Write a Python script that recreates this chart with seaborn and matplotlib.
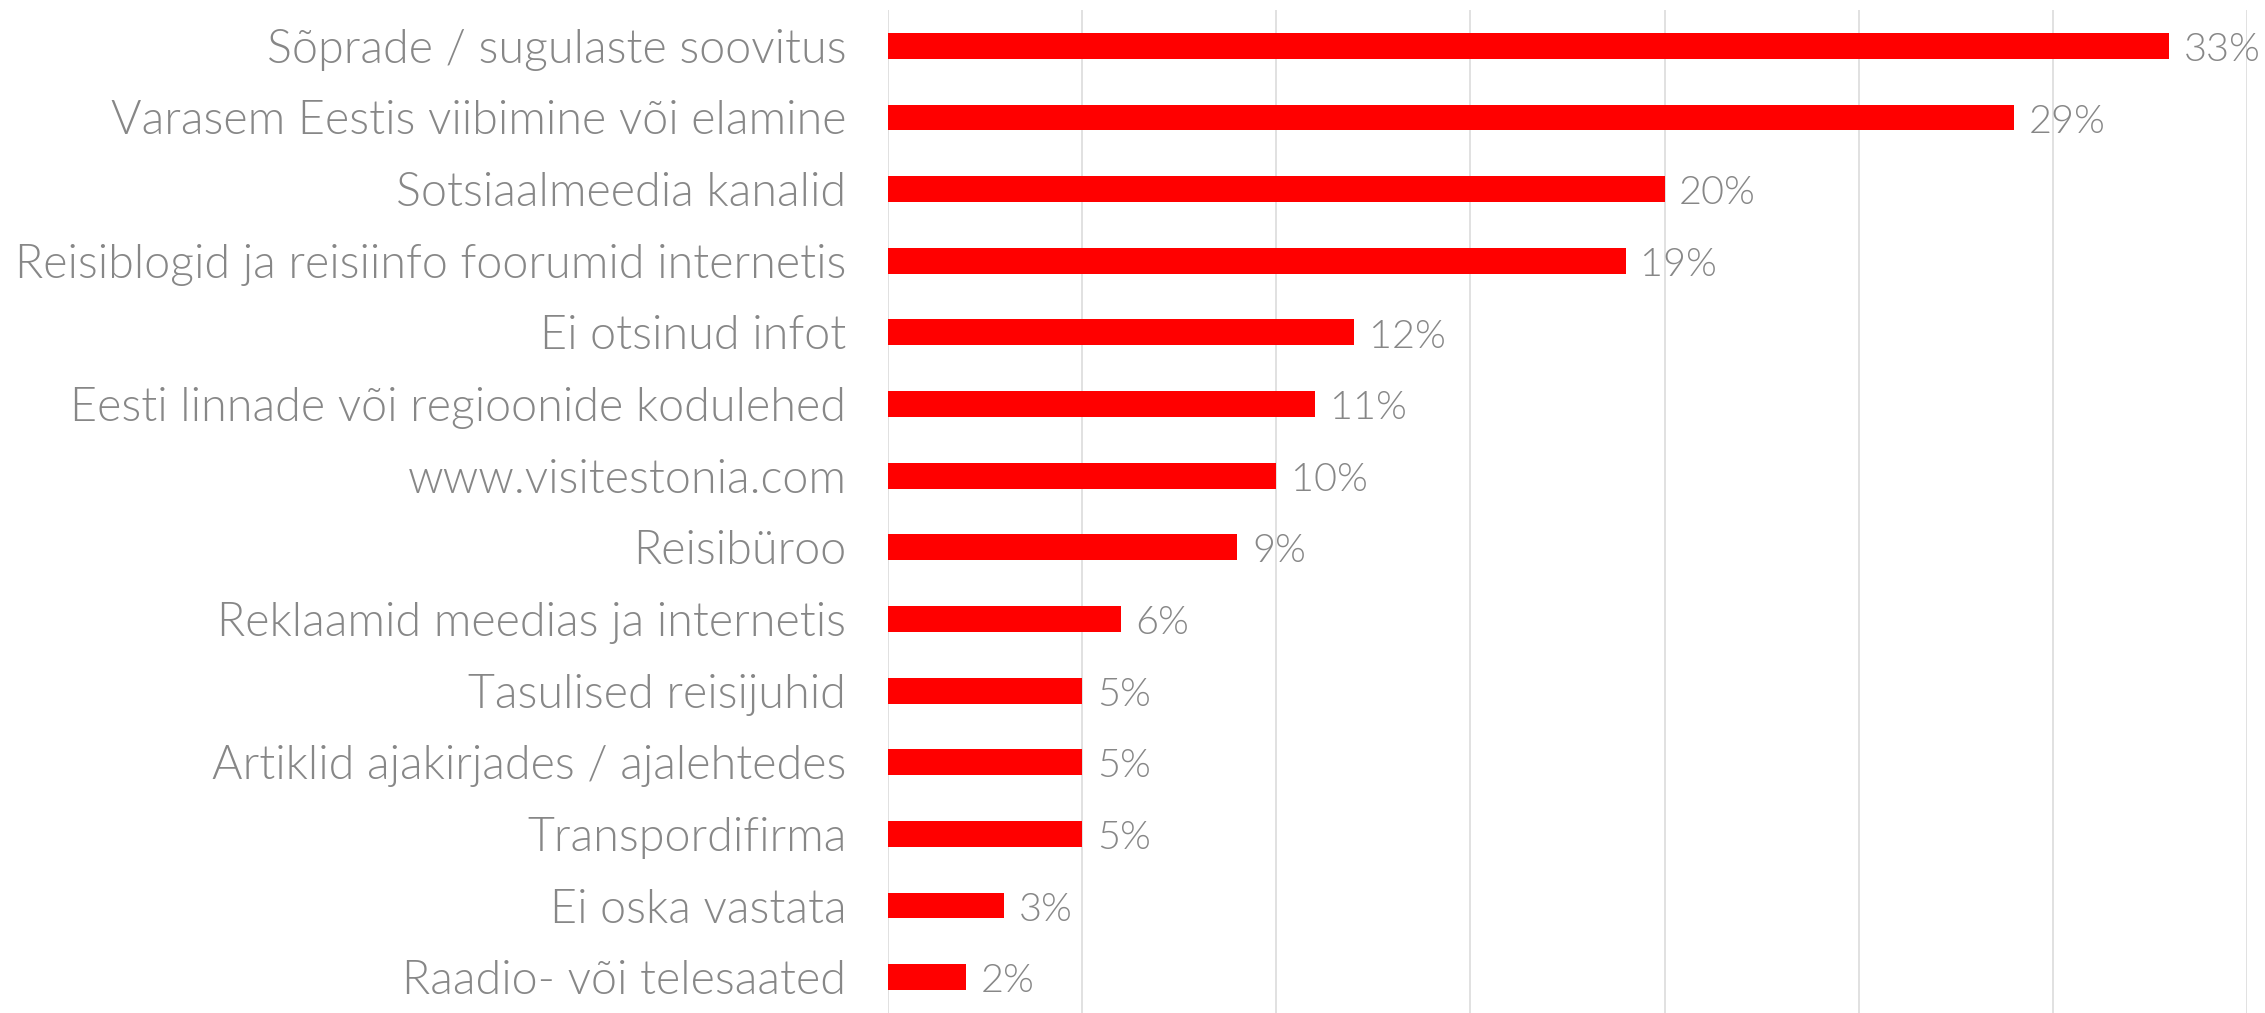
import matplotlib
matplotlib.use("Agg")
import matplotlib.pyplot as plt
from matplotlib import font_manager as fm
import seaborn as sns
import pandas as pd

categories = [
    "Sõprade / sugulaste soovitus",
    "Varasem Eestis viibimine või elamine",
    "Sotsiaalmeedia kanalid",
    "Reisiblogid ja reisiinfo foorumid internetis",
    "Ei otsinud infot",
    "Eesti linnade või regioonide kodulehed",
    "www.visitestonia.com",
    "Reisibüroo",
    "Reklaamid meedias ja internetis",
    "Tasulised reisijuhid",
    "Artiklid ajakirjades / ajalehtedes",
    "Transpordifirma",
    "Ei oska vastata",
    "Raadio- või telesaated",
]
values = [33, 29, 20, 19, 12, 11, 10, 9, 6, 5, 5, 5, 3, 2]
x_ticks = [0, 5, 10, 15, 20, 25, 30, 35]

TEXT = "#878787"
RED = "#ff0000"
GRID = "#dedede"


def pick_font():
    def w(v):
        if isinstance(v, int):
            return v
        return {"light": 300, "extra light": 200, "ultralight": 200, "thin": 100}.get(str(v).lower(), 400)
    for fam in ["Lato", "Roboto", "Open Sans", "Noto Sans"]:
        for f in fm.fontManager.ttflist:
            if f.name == fam and f.style == "normal" and w(f.weight) == 300 and f.stretch in ("normal", 500):
                return fam, 300
    return "DejaVu Sans", "normal"


FAM, WEIGHT = pick_font()

sns.set_theme(style="white")
plt.rcParams["font.family"] = [FAM, "DejaVu Sans"]

df = pd.DataFrame({"cat": categories, "val": values})

DPI = 100
fig = plt.figure(figsize=(22.65, 10.13), dpi=DPI)
ax = fig.add_axes([888 / 2265, 0.0, (2247 - 888) / 2265, 1 - 10 / 1013])

sns.barplot(data=df, y="cat", x="val", orient="h", color=RED, width=0.36,
            saturation=1, linewidth=0, ax=ax)

ax.set_xlim(0, 35)
ax.set_ylim(13.5, -0.5)
ax.set_xticks(x_ticks)
ax.set_xticklabels([])
ax.tick_params(axis="x", length=0)
ax.tick_params(axis="y", length=0, pad=30)
ax.grid(axis="x", color=GRID, linewidth=1.3)
ax.grid(axis="y", visible=False)
ax.set_axisbelow(True)
for s in ax.spines.values():
    s.set_visible(False)
ax.set_xlabel("")
ax.set_ylabel("")

renderer = fig.canvas.get_renderer()


def measure(txt):
    probe = fig.text(0, 0, txt, fontsize=30, family=[FAM, "DejaVu Sans"], weight=WEIGHT)
    wpx = probe.get_window_extent(renderer).width
    probe.remove()
    return wpx


# fit font sizes to the reference text widths
fs = 30 * 828 / measure(categories[3])
fs_pct = 30 * 77 / measure("33%")

for lab in ax.get_yticklabels():
    lab.set_fontsize(fs)
    lab.set_color(TEXT)
    lab.set_fontweight(WEIGHT)

for i, v in enumerate(values):
    ax.annotate(f"{v}%", xy=(v, i), xytext=(10.5, -3), textcoords="offset points",
                ha="left", va="center", fontsize=fs_pct, color=TEXT,
                fontweight=WEIGHT, annotation_clip=False)

fig.savefig("out.png", dpi=DPI, facecolor="white")
